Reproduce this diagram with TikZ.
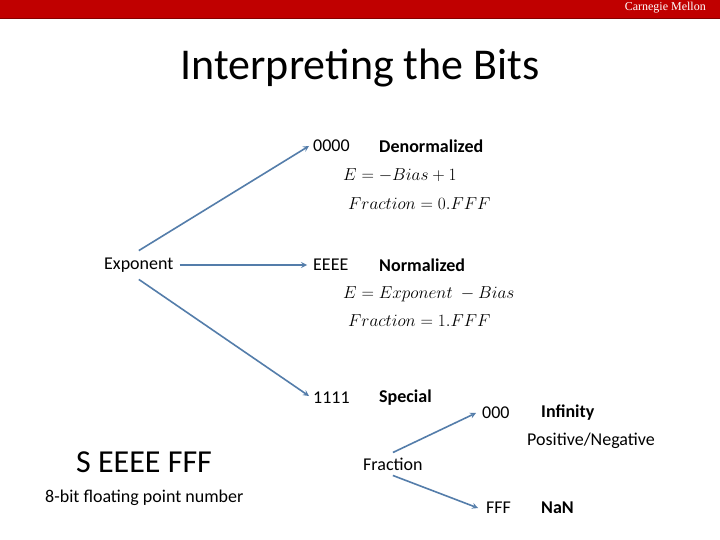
\documentclass[tikz,border=0pt]{standalone}
\usepackage{fontspec}
\setmainfont{Carlito}
\newfontfamily\cmufont{Liberation Serif}
\definecolor{cmured}{RGB}{192,0,0}
\definecolor{arrowblue}{RGB}{84,125,170}
\tikzset{
  lbl/.style={anchor=west, inner sep=2pt, font=\fontsize{18}{20}\selectfont},
  bold/.style={lbl, font=\fontsize{18}{20}\selectfont\bfseries},
  formula/.style={anchor=west, inner sep=0pt, font=\fontsize{19}{21}\selectfont},
  link/.style={->, >=stealth, arrowblue, line width=1.6pt}
}
\begin{document}
\begin{tikzpicture}[x=1pt, y=-1pt]
\useasboundingbox (0,0) rectangle (720,540);
\fill[white] (0,0) rectangle (720,540);
\fill[cmured] (0,0) rectangle (720,18);
\draw[cmured!70!black, line width=0.8pt] (0,18) -- (720,18);
\node[anchor=east, inner sep=0pt, text=white, font=\cmufont\fontsize{12}{13}\selectfont] (brand) at (706,8) {Carnegie Mellon};

\node[font=\fontsize{44}{46}\selectfont, inner sep=0pt] (title) at (360,68) {Interpreting the Bits};

% exponent cases
\node[lbl] (expo) at (102,265) {Exponent};
\node[lbl] (zeros) at (311,146) {0000};
\node[bold] (denorm) at (377,146) {Denormalized};
\node[formula] (denE) at (343,175) {$E = -Bias + 1$};
\node[formula] (denF) at (348,204) {$Fraction = 0.FFF$};

\node[lbl] (eeee) at (311,265) {EEEE};
\node[bold] (norm) at (377,265) {Normalized};
\node[formula] (normE) at (343,294) {$E = Exponent\ - Bias$};
\node[formula] (normF) at (348,321) {$Fraction = 1.FFF$};

\node[lbl] (ones) at (311,398) {1111};
\node[bold] (special) at (377,398) {Special};

% fraction cases
\node[lbl] (frac) at (361,464) {Fraction};
\node[lbl] (fzero) at (480,413) {000};
\node[bold] (inf) at (539,413) {Infinity};
\node[lbl] (posneg) at (525,441) {Positive/Negative};
\node[lbl] (fff) at (484,508) {FFF};
\node[bold] (nan) at (539,508) {NaN};

% the bit layout
\node[anchor=west, inner sep=0pt, font=\fontsize{32}{34}\selectfont] (layout) at (76,462) {S EEEE FFF};
\node[anchor=west, inner sep=0pt, font=\fontsize{18}{20}\selectfont] (caption) at (45,498) {8-bit floating point number};

\draw[link] ([yshift=5pt]expo.north) -- ([xshift=-2pt]zeros.west);
\draw[link] ([xshift=4pt]expo.east) -- ([xshift=-4pt]eeee.west);
\draw[link] ([yshift=-5pt]expo.south) -- ([xshift=-2pt,yshift=2pt]ones.west);
\draw[link] ([yshift=3pt]frac.north) -- ([xshift=-4pt]fzero.west);
\draw[link] ([yshift=-3pt]frac.south) -- ([xshift=-6pt]fff.west);
\end{tikzpicture}
\end{document}
